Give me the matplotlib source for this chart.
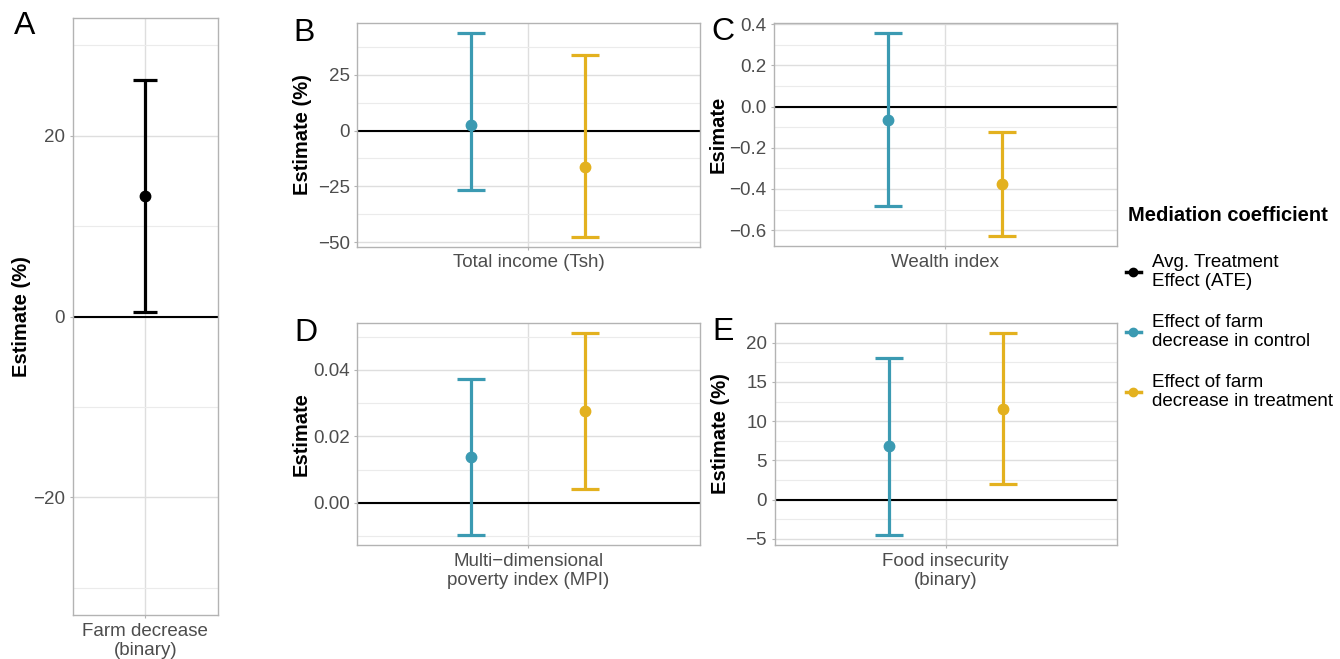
import matplotlib
matplotlib.use("Agg")
import matplotlib.pyplot as plt
from matplotlib.lines import Line2D
from matplotlib.ticker import MultipleLocator

plt.rcParams["font.family"] = ["Liberation Sans", "DejaVu Sans"]

# ---- data ----
ate_label = "Farm decrease\n(binary)"
ate_est = [13.35]
ate_lo = [0.55]
ate_hi = [26.15]

outcomes = [
    "Total income (Tsh)",
    "Wealth index",
    "Multi\u2212dimensional\npoverty index (MPI)",
    "Food insecurity\n(binary)",
]
ylabels = ["Estimate (%)", "Esimate", "Estimate", "Estimate (%)"]
panel_letters = ["B", "C", "D", "E"]

control_est = [2.4, -0.064, 0.0138, 6.82]
control_lo = [-26.8, -0.481, -0.0097, -4.49]
control_hi = [43.4, 0.355, 0.0372, 18.1]

treat_est = [-16.1, -0.374, 0.0277, 11.56]
treat_lo = [-47.4, -0.628, 0.0042, 1.96]
treat_hi = [33.9, -0.123, 0.0512, 21.27]

legend_labels = [
    "Avg. Treatment\nEffect (ATE)",
    "Effect of farm\ndecrease in control",
    "Effect of farm\ndecrease in treatment",
]

# ---- styling ----
BLUE = "#3B9AB2"
GOLD = "#E3B11F"
BORDER = "#B3B3B3"
GRID = "#DEDEDE"
TXT = "#4D4D4D"
W, H = 1340, 659
FS = 13.5

fig = plt.figure(figsize=(W / 100, H / 100), dpi=100)


def px_axes(left, top, right, bottom):
    return fig.add_axes([left / W, 1 - bottom / H, (right - left) / W, (bottom - top) / H])


def style(ax, major, minor, label, label_x_px, left_px, width_px):
    ax.set_xlim(0.4, 1.6)
    ax.set_xticks([1])
    ax.yaxis.set_major_locator(MultipleLocator(major))
    ax.yaxis.set_minor_locator(MultipleLocator(minor))
    ax.grid(True, which="major", color=GRID, lw=1.0, zorder=0)
    ax.grid(True, which="minor", axis="y", color="#EBEBEB", lw=0.8, zorder=0)
    ax.set_axisbelow(True)
    for s in ax.spines.values():
        s.set_color(BORDER)
        s.set_linewidth(1.0)
    ax.tick_params(which="major", length=2.5, color=BORDER, width=0.8,
                   labelsize=FS, labelcolor=TXT, pad=3)
    ax.tick_params(which="minor", length=0)
    for t in ax.get_xticklabels():
        t.set_linespacing(1.15)
    ax.axhline(0, color="black", lw=1.5, zorder=1)
    ax.set_ylabel(label, fontsize=14.5, fontweight="bold", va="center")
    ax.yaxis.set_label_coords((label_x_px - left_px) / width_px, 0.5)


def draw(ax, x, est, lo, hi, color, cap):
    ax.errorbar([x], [est], yerr=[[est - lo], [hi - est]], fmt="o", color=color,
                ms=7.5, lw=2.3, capsize=cap, capthick=2.3, zorder=3)


# panel A
axA = px_axes(72.5, 18.3, 218.3, 615)
draw(axA, 1, ate_est[0], ate_lo[0], ate_hi[0], "black", 8.6)
axA.set_ylim(-33, 33)
axA.set_xticks([1])
axA.set_xticklabels([ate_label])
style(axA, 20, 10, "Estimate (%)", 22, 72.5, 145.8)
fig.text(25 / W, 1 - 26.5 / H, "A", fontsize=23, ha="center", va="center")

# panels B-E
boxes = [
    (357.3, 23.3, 699.5, 246.7),
    (774.0, 23.3, 1116.7, 246.0),
    (357.3, 322.7, 699.5, 545.0),
    (774.7, 322.7, 1116.7, 545.0),
]
ticks = [(25, 12.5), (0.2, 0.1), (0.02, 0.01), (5, 2.5)]
label_x = [302.5, 718, 301, 720]
letter_xy = [(304.5, 33), (722.5, 31.5), (305.5, 333), (723.5, 332)]

for i, (l, t, r, b) in enumerate(boxes):
    ax = px_axes(l, t, r, b)
    draw(ax, 0.8, control_est[i], control_lo[i], control_hi[i], BLUE, 10)
    draw(ax, 1.2, treat_est[i], treat_lo[i], treat_hi[i], GOLD, 10)
    ax.margins(y=0.05)
    ax.set_xticks([1])
    ax.set_xticklabels([outcomes[i]])
    style(ax, ticks[i][0], ticks[i][1], ylabels[i], label_x[i], l, r - l)
    lx, ly = letter_xy[i]
    fig.text(lx / W, 1 - ly / H, panel_letters[i], fontsize=23, ha="center", va="center")

# legend
fig.text(1128 / W, 1 - 215 / H, "Mediation coefficient", fontsize=14.5,
         fontweight="bold", ha="left", va="center")
handles = [
    Line2D([], [], color=c, marker="o", ms=6, lw=2.5)
    for c in ["black", BLUE, GOLD]
]
leg = fig.legend(handles, legend_labels, loc="upper left",
                 bbox_to_anchor=(1120 / W, 1 - 248 / H), frameon=False,
                 fontsize=FS, handlelength=0.8, handletextpad=0.6,
                 labelspacing=1.3, borderaxespad=0, borderpad=0.3)
for t in leg.get_texts():
    t.set_linespacing(1.15)

fig.savefig("out.png", dpi=100)
